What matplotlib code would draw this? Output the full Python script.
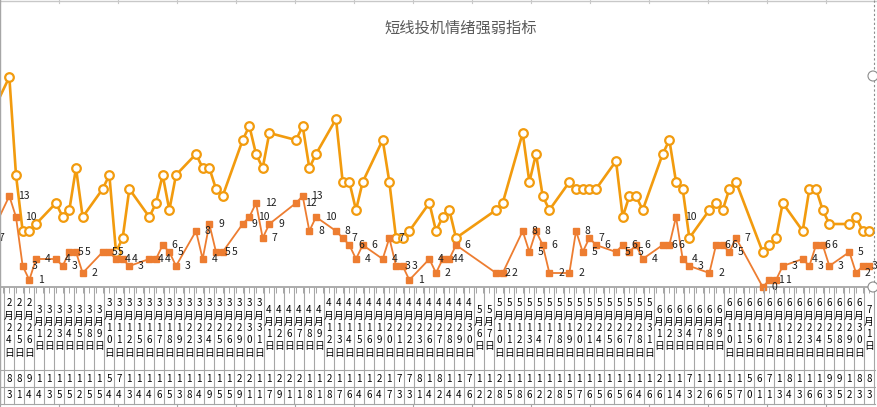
import matplotlib
matplotlib.use('Agg')
import matplotlib.pyplot as plt
import matplotlib.dates as mdates
from matplotlib.lines import Line2D
from matplotlib.patches import Ellipse
import pandas as pd

plt.rcParams['font.family'] = ['Noto Sans CJK SC', 'DejaVu Sans']

title = '短线投机情绪强弱指标'

# trading days (weekends / holidays have no point, the date axis leaves gaps)
dates = [
    '2021-02-19',
    '2021-02-22', '2021-02-23', '2021-02-24', '2021-02-25', '2021-02-26',
    '2021-03-01', '2021-03-02', '2021-03-03', '2021-03-04', '2021-03-05',
    '2021-03-08', '2021-03-09', '2021-03-10', '2021-03-11', '2021-03-12',
    '2021-03-15', '2021-03-16', '2021-03-17', '2021-03-18', '2021-03-19',
    '2021-03-22', '2021-03-23', '2021-03-24', '2021-03-25', '2021-03-26',
    '2021-03-29', '2021-03-30', '2021-03-31', '2021-04-01', '2021-04-02',
    '2021-04-06', '2021-04-07', '2021-04-08', '2021-04-09',
    '2021-04-12', '2021-04-13', '2021-04-14', '2021-04-15', '2021-04-16',
    '2021-04-19', '2021-04-20', '2021-04-21', '2021-04-22', '2021-04-23',
    '2021-04-26', '2021-04-27', '2021-04-28', '2021-04-29', '2021-04-30',
    '2021-05-06', '2021-05-07',
    '2021-05-10', '2021-05-11', '2021-05-12', '2021-05-13', '2021-05-14',
    '2021-05-17', '2021-05-18', '2021-05-19', '2021-05-20', '2021-05-21',
    '2021-05-24', '2021-05-25', '2021-05-26', '2021-05-27', '2021-05-28',
    '2021-05-31', '2021-06-01', '2021-06-02', '2021-06-03', '2021-06-04',
    '2021-06-07', '2021-06-08', '2021-06-09', '2021-06-10', '2021-06-11',
    '2021-06-15', '2021-06-16', '2021-06-17', '2021-06-18',
    '2021-06-21', '2021-06-22', '2021-06-23', '2021-06-24', '2021-06-25',
    '2021-06-28', '2021-06-29', '2021-06-30', '2021-07-01',
]

upper = [24,
         30, 16, 8, 8, 9,
         12, 10, 11, 17, 10,
         14, 16, 5, 7, 14,
         10, 12, 16, 11, 16,
         19, 17, 17, 14, 13,
         21, 23, 19, 17, 22,
         21, 23, 17, 19,
         24, 15, 15, 11, 15,
         21, 15, 7, 7, 8,
         12, 8, 10, 11, 7,
         11, 12,
         22, 15, 19, 13, 11,
         15, 14, 14, 14, 14,
         18, 10, 13, 13, 11,
         19, 21, 15, 14, 7,
         11, 12, 11, 14, 15,
         5, 6, 7, 12,
         8, 14, 14, 11, 9,
         9, 10, 8, 8]

lower = [7,
         13, 10, 3, 1, 4,
         4, 3, 5, 5, 2,
         5, 5, 4, 4, 3,
         4, 4, 6, 5, 3,
         8, 4, 9, 5, 5,
         9, 10, 12, 7, 9,
         12, 13, 8, 10,
         8, 7, 6, 4, 6,
         4, 7, 3, 3, 1,
         4, 2, 4, 4, 6,
         2, 2,
         8, 5, 8, 6, 2,
         2, 8, 5, 7, 6,
         5, 6, 5, 6, 4,
         6, 6, 10, 4, 3,
         2, 6, 6, 5, 7,
         0, 1, 1, 3,
         4, 3, 6, 6, 3,
         5, 2, 3, 3]

# worksheet cells under the chart: one column per trading day from 2月24日
cell_dates = dates[3:]
row2 = ('889111111157111111111' '112211222112111121778'
        '1811711211111111111111' '12117111115671811199188')
row3 = ('3144355255443446538495' '591179118187646473314'
        '244622858622857656564' '66143266570113436635233')

W, H = 878, 407
up_color = '#F29B0E'
low_color = '#ED7D31'
grid_color = '#A6A6A6'


def fx(x):
    return x / W


def fy(y):
    return 1 - y / H


def hline(y, x1, x2, **kw):
    fig.add_artist(Line2D([fx(x1), fx(x2)], [fy(y), fy(y)], transform=fig.transFigure, **kw))


def vline(x, y1, y2, **kw):
    fig.add_artist(Line2D([fx(x), fx(x)], [fy(y1), fy(y2)], transform=fig.transFigure, **kw))


fig = plt.figure(figsize=(W / 100, H / 100), dpi=100)
fig.patch.set_facecolor('white')

# date axis: 6.667 px per calendar day, 2021-02-22 sits at x = 9.3 px
day0 = mdates.date2num(pd.Timestamp('2021-02-22'))
px_day = 6.667
ax = fig.add_axes([0, fy(287), 875 / W, (287 - 42) / H])
ax.patch.set_alpha(0)
ax.set_xlim(day0 - 9.33 / px_day, day0 + (875 - 9.33) / px_day)
ax.set_ylim(0, 35)

x = pd.to_datetime(dates)
ax.plot(x, upper, color=up_color, lw=1.9, marker='o', ms=6.2, mfc='white',
        mec=up_color, mew=1.6, clip_on=False, zorder=3)
ax.plot(x, lower, color=low_color, lw=1.3, marker='s', ms=4.6, mfc=low_color,
        mec=low_color, clip_on=False, zorder=4)
for xi, v in zip(x, lower):
    ax.annotate(str(v), (xi, v), xytext=(6.3, 0), textcoords='offset points',
                ha='left', va='center', fontsize=7.5, color='#1F1F1F',
                annotation_clip=False, zorder=5)

for s in ['left', 'right', 'top']:
    ax.spines[s].set_visible(False)
ax.spines['bottom'].set_color(grid_color)
ax.spines['bottom'].set_linewidth(1.3)
ax.set_yticks([])
ax.xaxis.set_major_locator(mdates.DayLocator())
ax.tick_params(axis='x', direction='out', length=4.5, width=0.7, color=grid_color,
               labelbottom=False)

fig.text(fx(461), fy(28), title, ha='center', va='center', fontsize=11, color='#595959')

# sheet gridline above the chart, chart border and resize handles
hline(1, 0, W, color='#C8C8C8', lw=1)
for k in range(16):
    vline(59 * k, 0, 3, color='#C8C8C8', lw=0.8)
vline(0.5, 0, 404, color=grid_color, lw=1)
vline(874, 0, 287, color='#8C8C8C', lw=0.8, ls=(0, (2, 2)))
for hy in [76, 287]:
    fig.add_artist(Ellipse((fx(873), fy(hy)), 10 / W, 10 / H, transform=fig.transFigure,
                           facecolor='white', edgecolor='#8C8C8C', lw=0.8, zorder=10))

# cell grid below the chart
for y in [370, 387, 404]:
    hline(y, 0, 875, color=grid_color, lw=0.8)
for k in range(len(cell_dates) + 1):
    vline(4 + 10 * k, 288, 404, color=grid_color, lw=0.8)
for k in range(16):
    vline(59 * k, 404, 407, color=grid_color, lw=0.8)

for k, d in enumerate(cell_dates):
    ts = pd.Timestamp(d)
    chars = list(f'{ts.month}月{ts.day}日')
    cx = 9 + 10 * k
    n = len(chars)
    for i, ch in enumerate(chars):
        fig.text(fx(cx), fy(328 + (i - (n - 1) / 2) * 12.3), ch, ha='center', va='center',
                 fontsize=7, color='black')
    fig.text(fx(cx), fy(378.5), row2[k], ha='center', va='center', fontsize=7, color='black')
    fig.text(fx(cx), fy(395.5), row3[k], ha='center', va='center', fontsize=7, color='black')

fig.savefig('out.png', dpi=100)
